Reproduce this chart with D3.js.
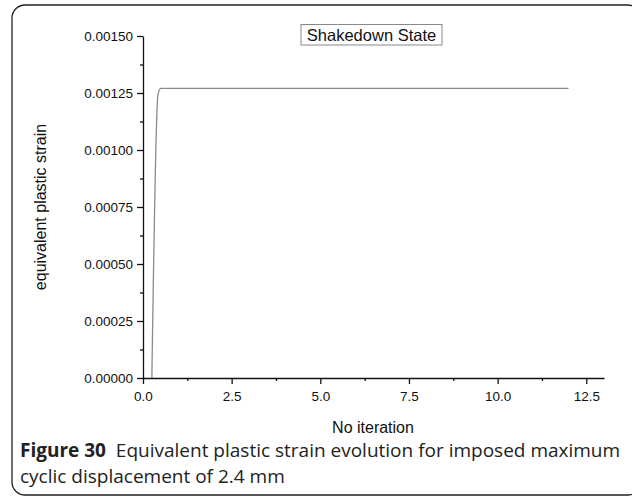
<!DOCTYPE html>
<meta charset="utf-8">
<style>
body{margin:0;background:#fff;}
text{font-family:"Liberation Sans",Arial,sans-serif;fill:#111;}
.axis path,.axis line{stroke:#111;stroke-width:1.3px;}
.axis text{font-size:13.5px;font-family:"Liberation Sans",Arial,sans-serif;}
.caption{font-family:"Open Sans","Noto Sans",sans-serif;font-size:19px;fill:#222;}
</style>
<body>
<script src="https://d3js.org/d3.v7.min.js"></script>
<script>

var iterX=[0.25, 0.42, 0.5, 12];
var strainY=[0, 0.00124, 0.00127, 0.00127];
var xTicks=[0, 2.5, 5, 7.5, 10, 12.5];
var yTicks=[0, 0.00025, 0.0005, 0.00075, 0.001, 0.00125, 0.0015];

var W=632, H=497;
var svg=d3.select("body").append("svg").attr("width",W).attr("height",H);

// frame
svg.append("rect").attr("x",12).attr("y",5).attr("width",629).attr("height",490)
	.attr("rx",13).attr("fill","none").attr("stroke","#222").attr("stroke-width",1.3);

var x=d3.scaleLinear().domain([0,13]).range([143,604]);
var y=d3.scaleLinear().domain([0,0.0015]).range([378,36]);

// minor ticks
var xMinor=d3.range(0,13,1.25).filter(v=>xTicks.indexOf(v)<0);
var yMinor=d3.range(0.000125,0.0015,0.00025);

svg.append("g").attr("class","axis").attr("transform","translate(0,378)")
	.call(d3.axisBottom(x).tickValues(xMinor).tickSize(3).tickFormat(""))
	.select(".domain").remove();
svg.append("g").attr("class","axis").attr("transform","translate(143,0)")
	.call(d3.axisLeft(y).tickValues(yMinor).tickSize(3).tickFormat(""))
	.select(".domain").remove();

svg.append("g").attr("class","axis").attr("transform","translate(0,378)")
	.call(d3.axisBottom(x).tickValues(xTicks).tickSize(6).tickSizeOuter(0).tickPadding(7).tickFormat(d3.format(".1f")));
svg.append("g").attr("class","axis").attr("transform","translate(143,0)")
	.call(d3.axisLeft(y).tickValues(yTicks).tickSize(6).tickSizeOuter(0).tickPadding(4).tickFormat(d3.format(".5f")));

// data line
var pts=iterX.map((v,i)=>[v,strainY[i]]);
svg.append("path").datum(pts)
	.attr("d",d3.line().x(d=>x(d[0])).y(d=>y(d[1])).curve(d3.curveMonotoneX))
	.attr("fill","none").attr("stroke","#8a8a8a").attr("stroke-width",1.3);

// legend box
svg.append("rect").attr("x",301).attr("y",24.5).attr("width",141).attr("height",20.5)
	.attr("fill","#fff").attr("stroke","#888").attr("stroke-width",1);
svg.append("text").attr("x",371.5).attr("y",40.5).attr("text-anchor","middle")
	.style("font-size","16.5px").text("Shakedown State");

// axis labels
svg.append("text").attr("x",373).attr("y",432.5).attr("text-anchor","middle")
	.style("font-size","16px").text("No iteration");
svg.append("text").attr("transform","translate(46,207) rotate(-90)").attr("text-anchor","middle")
	.style("font-size","16px").text("equivalent plastic strain");

// caption
var cap=svg.append("text").attr("class","caption").attr("x",20).attr("y",457);
cap.append("tspan").style("font-weight","bold").text("Figure 30");
cap.append("tspan").text("\u00a0 Equivalent plastic strain evolution for imposed maximum");
svg.append("text").attr("class","caption").attr("x",20).attr("y",483)
	.text("cyclic displacement of 2.4 mm");

</script>
</body>
</html>
